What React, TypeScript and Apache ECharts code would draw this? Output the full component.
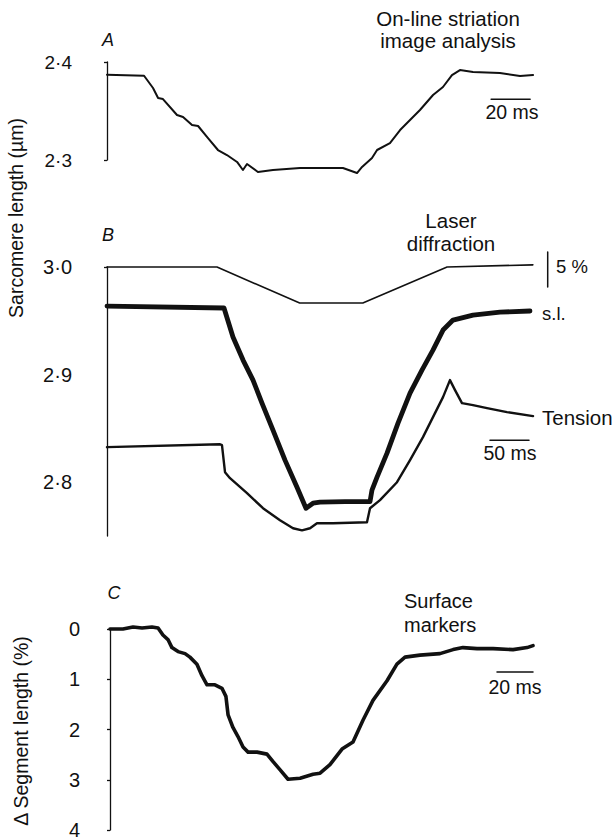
import React, { useEffect, useRef } from "react";
import * as echarts from "echarts";

// ---------- Panel A: on-line striation image analysis ----------
const A_TIME_MS = [0, 19, 23.6, 26.2, 28.7, 35.9, 39, 43.6, 46.7, 51.8, 56.9, 61.5, 66.7, 69.7, 71.8, 77.4, 85.1, 99, 109.2, 121, 128.2, 130.8, 135.9, 138.5, 145.1, 150.3, 155.4, 160.5, 167.2, 172.3, 176.9, 181, 187.7, 201.5, 211.8, 218.5];
const A_SL_UM = [2.387, 2.386, 2.3735, 2.3633, 2.3622, 2.3459, 2.3439, 2.3357, 2.3347, 2.3224, 2.3102, 2.3051, 2.298, 2.2898, 2.2959, 2.2878, 2.2898, 2.2918, 2.2918, 2.2918, 2.2867, 2.2929, 2.302, 2.3102, 2.3173, 2.3306, 2.3408, 2.351, 2.3663, 2.3745, 2.3867, 2.3918, 2.3898, 2.3888, 2.3857, 2.3867];
const A_TICKS = [2.3, 2.4];
const A_BAR_MS = [197, 217];
const A_BAR_Y = 2.362;

// ---------- Panel B: laser diffraction ----------
const B_CMD_MS = [0, 141, 247, 328, 436, 546];
const B_CMD = [3.0, 3.0, 2.9665, 2.9665, 3.0, 3.002];
const B_SL_MS = [0, 150, 161.5, 174.4, 187.2, 198.7, 212.8, 228.2, 243.6, 255.1, 264.1, 273.1, 305.1, 337.2, 339.7, 346.2, 359, 373.1, 388.5, 403.8, 417.9, 430.8, 443.6, 469.2, 503.8, 542.3];
const B_SL = [2.9637, 2.9619, 2.9349, 2.9135, 2.8949, 2.8735, 2.8484, 2.8205, 2.7953, 2.7758, 2.7805, 2.7814, 2.782, 2.782, 2.7926, 2.8047, 2.827, 2.8549, 2.8828, 2.9042, 2.9228, 2.9414, 2.9507, 2.9553, 2.9581, 2.9591];
const B_TENSION_MS = [0, 144.9, 147.4, 151.3, 157.7, 179.5, 200, 221.8, 238.5, 250, 260.3, 269.2, 289.7, 333.3, 337.2, 350, 371.8, 388.5, 405.1, 420.5, 430.8, 439.7, 446.2, 455.1, 469.2, 487.2, 512.8, 546.2];
const B_TENSION = [2.8326, 2.8353, 2.8344, 2.8093, 2.8037, 2.7898, 2.7758, 2.7647, 2.7572, 2.7553, 2.7572, 2.7619, 2.7619, 2.7628, 2.7758, 2.7833, 2.8, 2.8205, 2.8419, 2.8642, 2.8791, 2.8949, 2.8856, 2.8735, 2.8716, 2.8688, 2.8651, 2.8614];
const B_LABELS = [2.8, 2.9, 3.0];
const B_TICKS = [3.0];
const B_BAR_MS = [491, 541];
const B_BAR_Y = 2.839;
const B_PCT_BAR_MS = 565;
const B_PCT_BAR_Y = [3.014, 2.9814];

// ---------- Panel C: surface markers ----------
const C_TIME_MS = [0, 7.2, 12.8, 17.8, 23.3, 26.7, 29.4, 32.2, 34.4, 37.8, 41.7, 44.4, 48.3, 51.1, 53.9, 58.3, 62.2, 64.4, 65.6, 68.3, 71.1, 73.9, 76.7, 81.7, 87.2, 90.6, 94.4, 98.9, 105.6, 112.8, 116.7, 122.2, 128.9, 135, 140.6, 146.1, 153.9, 159.4, 163.9, 172.2, 183.3, 190.6, 196.1, 203.9, 212.8, 223.9, 231.7, 235];
const C_SEG = [0, 0, -0.04, -0.02, -0.04, -0.02, 0.12, 0.21, 0.37, 0.45, 0.49, 0.56, 0.7, 0.93, 1.11, 1.11, 1.18, 1.34, 1.71, 1.96, 2.14, 2.35, 2.45, 2.45, 2.49, 2.64, 2.8, 2.99, 2.97, 2.89, 2.87, 2.7, 2.39, 2.25, 1.81, 1.42, 1.03, 0.7, 0.56, 0.52, 0.49, 0.41, 0.37, 0.39, 0.39, 0.41, 0.37, 0.33];
const C_BAR_MS = [215, 235];
const C_BAR_Y = 0.854;

const FONT = '"Liberation Sans", Arial, Helvetica, sans-serif';
const zip = (xs: number[], ys: number[]) => xs.map((x, i) => [x, ys[i]]);
const dotFmt = (v: number) => v.toFixed(1).replace(".", "\u00B7");

export default function App() {
  const ref = useRef<HTMLDivElement>(null);
  useEffect(() => {
    document.body.style.margin = "0";
    const chart = echarts.init(ref.current!, null, { renderer: "svg" });
    const axisLine = { show: true, lineStyle: { color: "#111", width: 1.3 } };
    const lineSeries = (data: number[][], xi: number, width: number) => ({
      type: "line",
      xAxisIndex: xi,
      yAxisIndex: xi,
      data,
      symbol: "none",
      clip: false,
      silent: true,
      lineStyle: { color: "#111", width, cap: "round", join: "round" },
    });
    const text = (t: string, x: number, y: number, size: number, align = "center", extra: any = {}) => ({
      type: "text",
      x,
      y,
      ...extra,
      style: { text: t, font: `${extra.italic ? "italic " : ""}${size}px ${FONT}`, fill: "#111", textAlign: align, textVerticalAlign: "middle" },
    });
    chart.setOption({
      animation: false,
      backgroundColor: "#fff",
      grid: [
        { left: 107, top: 62, width: 445, height: 98 },
        { left: 107, top: 267, width: 445, height: 269 },
        { left: 110, top: 629, width: 441, height: 206 },
      ],
      xAxis: [
        { type: "value", gridIndex: 0, min: 0, max: 445 * 20 / 39, show: false },
        { type: "value", gridIndex: 1, min: 0, max: 445 * 50 / 39, show: false },
        { type: "value", gridIndex: 2, min: 0, max: 441 * 20 / 36, show: false },
      ],
      yAxis: [
        {
          type: "value", gridIndex: 0, min: 2.3, max: 2.4, offset: 19,
          axisLine, splitLine: { show: false },
          axisTick: { show: true, length: 3, customValues: A_TICKS, lineStyle: { color: "#111", width: 1.3 } },
          axisLabel: { customValues: A_TICKS, formatter: dotFmt, margin: 16, color: "#111", fontSize: 19, fontFamily: FONT },
        },
        {
          type: "value", gridIndex: 1, min: 2.75, max: 3.0, offset: 19,
          axisLine, splitLine: { show: false },
          axisTick: { show: true, length: 3, customValues: B_TICKS, lineStyle: { color: "#111", width: 1.3 } },
          axisLabel: { customValues: B_LABELS, formatter: dotFmt, margin: 16, color: "#111", fontSize: 20, fontFamily: FONT },
        },
        {
          type: "value", gridIndex: 2, min: 0, max: 4, interval: 1, inverse: true, offset: 18,
          axisLine, splitLine: { show: false },
          axisTick: { show: true, length: 3, lineStyle: { color: "#111", width: 1.3 } },
          axisLabel: { margin: 12, color: "#111", fontSize: 20, fontFamily: FONT },
        },
      ],
      series: [
        lineSeries(zip(A_TIME_MS, A_SL_UM), 0, 2),
        lineSeries([[A_BAR_MS[0], A_BAR_Y], [A_BAR_MS[1], A_BAR_Y]], 0, 1.5),
        lineSeries(zip(B_CMD_MS, B_CMD), 1, 1.6),
        lineSeries(zip(B_SL_MS, B_SL), 1, 4.8),
        lineSeries(zip(B_TENSION_MS, B_TENSION), 1, 2.4),
        lineSeries([[B_BAR_MS[0], B_BAR_Y], [B_BAR_MS[1], B_BAR_Y]], 1, 1.5),
        lineSeries([[B_PCT_BAR_MS, B_PCT_BAR_Y[0]], [B_PCT_BAR_MS, B_PCT_BAR_Y[1]]], 1, 1.5),
        lineSeries(zip(C_TIME_MS, C_SEG), 2, 3.6),
        lineSeries([[C_BAR_MS[0], C_BAR_Y], [C_BAR_MS[1], C_BAR_Y]], 2, 1.5),
      ],
      graphic: [
        text("A", 108, 40, 18, "center", { italic: true }),
        text("B", 108, 235, 18, "center", { italic: true }),
        text("C", 114, 593, 18, "center", { italic: true }),
        text("On-line striation", 448, 18, 20.5),
        text("image analysis", 448, 40, 20.5),
        text("20 ms", 512, 112, 19.5),
        text("Laser", 451, 220, 20.5),
        text("diffraction", 451, 243, 20.5),
        text("5 %", 556, 266, 18.5, "left"),
        text("s.l.", 542, 313, 18.5, "left"),
        text("Tension", 542, 417, 20.5, "left"),
        text("50 ms", 510, 453, 19.5),
        text("Surface", 404, 601, 20, "left"),
        text("markers", 404, 625, 20, "left"),
        text("20 ms", 515, 687, 19.5),
        text("Sarcomere length (\u00B5m)", 16, 218, 19.5, "center", { rotation: Math.PI / 2 }),
        text("\u0394 Segment length (%)", 21, 731, 19.5, "center", { rotation: Math.PI / 2 }),
      ],
    });
    return () => chart.dispose();
  }, []);
  return <div ref={ref} style={{ width: 612, height: 840 }} />;
}
